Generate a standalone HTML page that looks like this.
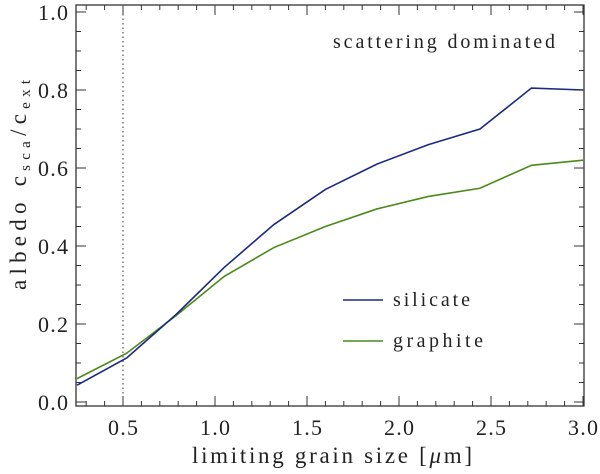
<!DOCTYPE html>
<html><head><meta charset="utf-8"><style>
body{margin:0;background:#fff}
svg text{font-family:"Liberation Serif",serif;fill:#222}
</style></head><body>
<svg id="chart" width="600" height="469" xmlns="http://www.w3.org/2000/svg">
<text x="192" y="463" font-size="23" textLength="280" lengthAdjust="spacing">limiting grain size [<tspan font-style="italic">μ</tspan>m]</text>
<text transform="translate(26,290) rotate(-90)" font-size="23" textLength="210" lengthAdjust="spacing">albedo c<tspan font-size="15" dy="4">sca</tspan><tspan dy="-4">/c</tspan><tspan font-size="15" dy="4">ext</tspan></text>
<text x="333" y="48" font-size="20" textLength="222" lengthAdjust="spacing">scattering dominated</text>
<line x1="343" y1="300" x2="383" y2="300" stroke="#1a2a80" stroke-width="1.6"/>
<text x="393" y="306" font-size="20" textLength="77" lengthAdjust="spacing">silicate</text>
<line x1="343" y1="341" x2="383" y2="341" stroke="#4a8a1a" stroke-width="1.6"/>
<text x="393" y="347" font-size="20" textLength="90" lengthAdjust="spacing">graphite</text>
</svg>
<script>
const grainSizes=[0.25,0.52,0.79,1.05,1.32,1.6,1.88,2.16,2.44,2.72,3.0];
const silicate=[0.043,0.113,0.225,0.345,0.455,0.545,0.61,0.66,0.70,0.805,0.80];
const graphite=[0.06,0.125,0.222,0.322,0.396,0.45,0.495,0.527,0.548,0.607,0.62];
const xTicks=[0.5,1.0,1.5,2.0,2.5,3.0];
const yTicks=[0.0,0.2,0.4,0.6,0.8,1.0];
const L=76,R=584,T=5,B=406;
const xs=v=>77+(v-0.25)*184;
const ys=v=>402-390*v;
const svg=document.getElementById('chart');
const NS='http://www.w3.org/2000/svg';
function mk(t,a){const e=document.createElementNS(NS,t);for(const k in a)e.setAttribute(k,a[k]);svg.appendChild(e);return e;}
const frame=mk('rect',{x:L,y:T,width:R-L,height:B-T,fill:'none',stroke:'#333','stroke-width':1.3});


for(let i=3;i<=30;i++){const v=i/10,x=xs(v),maj=i%5===0,h=maj?10:5;
 const t1=mk('line',{x1:x,y1:B,x2:x,y2:B-h,stroke:'#333'});
 
 
 const t2=mk('line',{x1:x,y1:T,x2:x,y2:T+h,stroke:'#333'});
 
 }
xTicks.forEach(v=>{const t=mk('text',{x:xs(v)-15,y:435,'font-size':22,textLength:30,lengthAdjust:'spacing'});t.textContent=v.toFixed(1);
 
 });
for(let i=0;i<=20;i++){const v=i*0.05,y=ys(v),maj=i%4===0,h=maj?10:5;
 const t1=mk('line',{x1:L,y1:y,x2:L+h,y2:y,stroke:'#333'});
 
 
 const t2=mk('line',{x1:R,y1:y,x2:R-h,y2:y,stroke:'#333'});
 
 }
yTicks.forEach(v=>{const t=mk('text',{x:38,y:ys(v)+8,'font-size':22,textLength:30,lengthAdjust:'spacing'});t.textContent=v.toFixed(1);
 
 });
const vl=mk('line',{x1:xs(0.5),y1:T,x2:xs(0.5),y2:B,stroke:'#555','stroke-dasharray':'1.5,3','stroke-width':1.2});


function line(d,c,n){const p=mk('polyline',{points:grainSizes.map((g,i)=>xs(g)+','+ys(d[i])).join(' '),fill:'none',stroke:c,'stroke-width':1.6});
 
 }
line(graphite,'#4a8a1a','graphite-line');
line(silicate,'#1a2a80','silicate-line');
</script>
</body></html>
